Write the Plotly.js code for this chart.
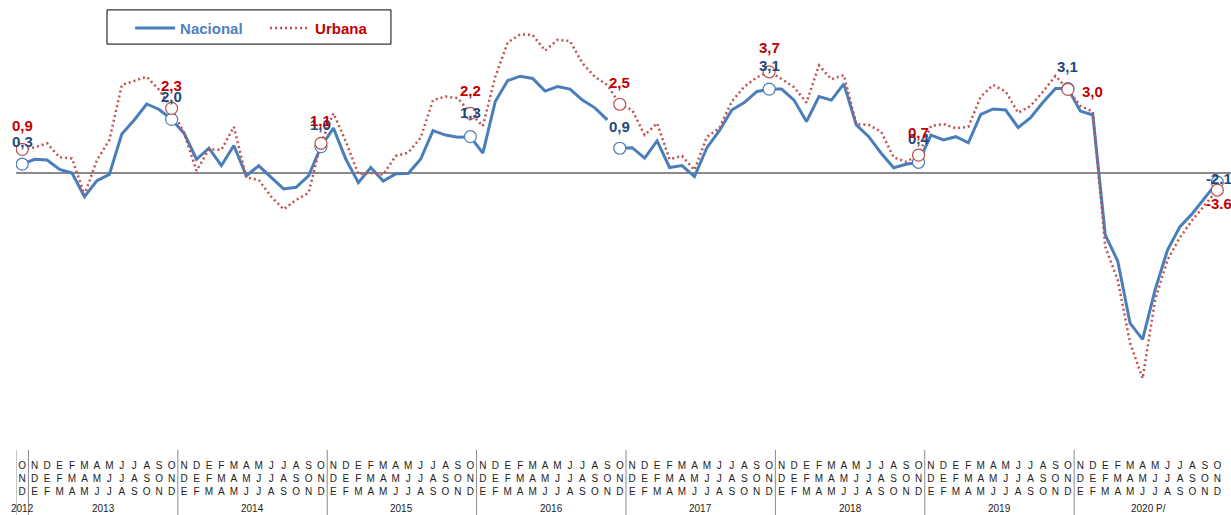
<!DOCTYPE html>
<html><head><meta charset="utf-8">
<script src="https://cdn.plot.ly/plotly-3.0.1.min.js"></script>
<style>html,body{margin:0;padding:0;background:#fff;} #chart{width:1231px;height:515px;}</style>
</head><body><div id="chart"></div>
<script>
// ---- data ----
const years = ['2012','2013','2014','2015','2016','2017','2018','2019','2020 P/'];
const monthInitials = ['E','F','M','A','M','J','J','A','S','O','N','D'];
const firstMonth = 9; // trimestre móvil inicial: O-N-D 2012
const nacional = [
  0.32, 0.50, 0.47, 0.13, 0.00, -0.86, -0.28, -0.05, 1.42, 1.93, 2.51, 2.31,
  1.95, 1.45, 0.50, 0.90, 0.27, 1.00, -0.10, 0.26, -0.16, -0.58, -0.52, -0.10,
  0.96, 1.63, 0.50, -0.35, 0.20, -0.29, -0.03, -0.02, 0.50, 1.54, 1.38, 1.30,
  1.32, 0.72, 2.60, 3.36, 3.52, 3.44, 2.98, 3.14, 3.05, 2.65, 2.37, 1.93,
  0.90, 0.92, 0.54, 1.17, 0.20, 0.27, -0.13, 0.92, 1.54, 2.29, 2.56, 2.96,
  3.05, 3.05, 2.65, 1.87, 2.78, 2.65, 3.24, 1.75, 1.32, 0.72, 0.19, 0.32,
  0.39, 1.38, 1.20, 1.32, 1.10, 2.13, 2.33, 2.29, 1.65, 2.01, 2.57, 3.07,
  3.07, 2.25, 2.11, -2.25, -3.20, -5.47, -6.05, -4.25, -2.80, -1.95, -1.47, -0.92,
  -0.33
];
const urbana = [
  0.86, 0.93, 1.08, 0.57, 0.53, -0.80, 0.47, 1.20, 3.20, 3.36, 3.50, 3.02,
  2.35, 1.45, 0.08, 0.86, 0.84, 1.68, -0.16, -0.25, -0.86, -1.32, -0.98, -0.72,
  1.08, 2.17, 1.14, -0.04, 0.00, -0.06, 0.62, 0.74, 1.28, 2.65, 2.78, 2.72,
  2.17, 1.71, 3.50, 4.75, 5.04, 5.02, 4.45, 4.84, 4.80, 3.99, 3.50, 3.20,
  2.50, 2.29, 1.38, 1.81, 0.50, 0.62, 0.11, 1.32, 1.63, 2.60, 3.14, 3.48,
  3.68, 3.42, 3.12, 2.56, 3.91, 3.41, 3.56, 1.78, 1.75, 1.50, 0.57, 0.41,
  0.65, 1.71, 1.78, 1.63, 1.68, 2.78, 3.20, 2.96, 2.19, 2.44, 2.96, 3.53,
  3.04, 2.44, 2.23, -2.68, -3.89, -6.19, -7.47, -4.62, -3.16, -2.34, -1.71, -1.16,
  -0.62
];
const nacionalLabels = ['0,3','2,0','1,0','1,3','0,9','3,1','0,4','3,1','-2.1'];
const urbanaLabels   = ['0,9','2,3','1,1','2,2','2,5','3,7','0,7','3,0','-3.6'];
const nacionalBreak = 48; // la serie nacional se interrumpe antes de O-N-D 2016

// ---- styles ----
const C = {
  nacLine: '#4A7EBB', urbLine: '#C0504D',
  nacText: '#1F497D', urbText: '#C00000',
  legNac: '#4F81BD', divider: '#8a8a8a'
};
const FONT = 'Liberation Sans, Arial, sans-serif';
// label offsets (px) per December point: [xshift, yshift]
const nacOffsets = [[0,23],[0,23],[0,22],[0,24],[0,22],[0,24],[0,24],[0,22],[2,4]];
const urbOffsets = [[0,24],[0,23],[0,23],[0,23],[0,22],[0,24],[0,23],[25,-2],[2,-13]];

// ---- build categories ----
const n = nacional.length;
const cats = [], tickText = [], groupYears = [];
for (let i = 0; i < n; i++) {
  const m = firstMonth + i;
  const letters = [0,1,2].map(k => monthInitials[(m + k) % 12]);
  const yr = years[Math.floor((m + 2) / 12)];
  cats.push(letters.join('') + ' ' + yr);
  tickText.push(letters.join('<br>'));
  groupYears.push(yr);
}
const decIdx = [];
for (let i = 0; i < n; i++) if ((firstMonth + i + 2) % 12 === 11) decIdx.push(i);

const traces = [
  { type:'scatter', mode:'lines', name:'<span style="color:'+C.legNac+'">Nacional</span>',
    legendgroup:'nac', x: cats.slice(0, nacionalBreak), y: nacional.slice(0, nacionalBreak),
    line:{color:C.nacLine, width:3} },
  { type:'scatter', mode:'lines', name:'Nacional', showlegend:false, legendgroup:'nac',
    x: cats.slice(nacionalBreak), y: nacional.slice(nacionalBreak),
    line:{color:C.nacLine, width:3} },
  { type:'scatter', mode:'lines', name:'<span style="color:'+C.urbText+'">Urbana</span>',
    x: cats, y: urbana, line:{color:C.urbLine, width:2.5, dash:'2px,3px'} },
  { type:'scatter', mode:'markers', showlegend:false, x: decIdx.map(i => cats[i]), y: decIdx.map(i => nacional[i]),
    marker:{symbol:'circle', size:12, color:'#fff', line:{color:C.nacLine, width:1.2}} },
  { type:'scatter', mode:'markers', showlegend:false, x: decIdx.map(i => cats[i]), y: decIdx.map(i => urbana[i]),
    marker:{symbol:'circle', size:12, color:'#fff', line:{color:C.urbLine, width:1.2}} }
];

const annotations = [];
decIdx.forEach((i, k) => {
  annotations.push({ xref:'x', yref:'y', x:cats[i], y:nacional[i], text:'<b>'+nacionalLabels[k]+'</b>',
    showarrow:false, xshift:nacOffsets[k][0], yshift:nacOffsets[k][1],
    font:{family:FONT, size:15, color:C.nacText} });
});
decIdx.forEach((i, k) => {
  annotations.push({ xref:'x', yref:'y', x:cats[i], y:urbana[i], text:'<b>'+urbanaLabels[k]+'</b>',
    showarrow:false, xshift:urbOffsets[k][0], yshift:urbOffsets[k][1],
    font:{family:FONT, size:15, color:C.urbText} });
});

// year groups: labels and dividers
const plotH = 450, bottomM = 65;
const shapes = [];
years.forEach(yr => {
  const idx = groupYears.map((g, i) => g === yr ? i : -1).filter(i => i >= 0);
  const first = idx[0], last = idx[idx.length - 1];
  annotations.push({ xref:'x', yref:'paper', x:(first + last) / 2, y:-58 / plotH, yanchor:'middle',
    text: yr, showarrow:false, font:{family:FONT, size:10, color:'#222'} });
  shapes.push({ type:'line', xref:'x', yref:'paper', x0:first - 0.5, x1:first - 0.5,
    y0:0, y1:-bottomM / plotH, line:{color:C.divider, width:1} });
});
shapes.push({type:'rect', xref:'paper', yref:'paper', x0:0.0749, x1:0.3086, y0:0.902, y1:0.978,
  line:{color:'#000', width:1}, fillcolor:'rgba(0,0,0,0)', layer:'above'});

const layout = {
  width:1231, height:515,
  margin:{l:16, r:0, t:0, b:bottomM},
  paper_bgcolor:'#fff', plot_bgcolor:'#fff',
  showlegend:true,
  legend:{orientation:'h', x:0.0939, y:0.974, xanchor:'left', yanchor:'top',
    bgcolor:'rgba(0,0,0,0)', borderwidth:0, entrywidth:80, itemwidth:40,
    font:{family:FONT, size:15, color:C.urbText, weight:'bold'}},
  xaxis:{type:'category', categoryorder:'array', categoryarray:cats, range:[-0.5, 97.1],
    tickmode:'array', tickvals:cats, ticktext:tickText, tickangle:0, ticklabelstandoff:8,
    showgrid:false, zeroline:false, showline:false, ticks:'',
    tickfont:{family:FONT, size:10, color:'#222'}, fixedrange:true},
  yaxis:{range:[-10.0727, 6.2909], showgrid:false, showticklabels:false, ticks:'',
    zeroline:true, zerolinecolor:C.divider, zerolinewidth:1.5, showline:false, fixedrange:true},
  shapes: shapes,
  annotations: annotations
};

Plotly.newPlot('chart', traces, layout, {displayModeBar:false, staticPlot:true});
</script>
</body></html>
